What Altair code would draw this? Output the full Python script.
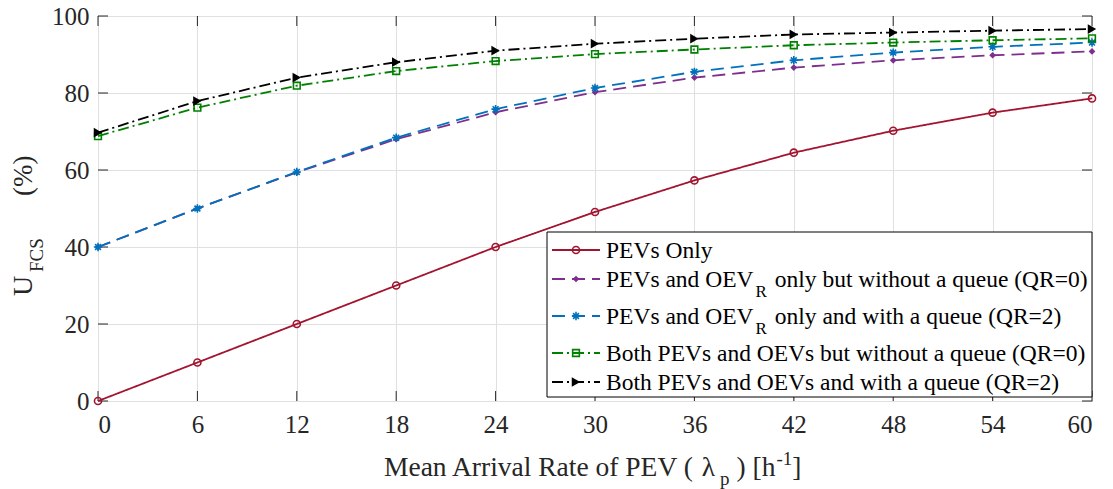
import altair as alt
import pandas as pd

# Mean arrival rate of PEVs (per hour)
arrival_rate = [0, 6, 12, 18, 24, 30, 36, 42, 48, 54, 60]

# Utilisation of the fast charging station (%)
pev_only = [0, 10, 20, 30, 40, 49.1, 57.3, 64.5, 70.2, 74.9, 78.6]
oevr_no_queue = [40, 50, 59.4, 68.0, 75.0, 80.2, 84.0, 86.6, 88.5, 89.8, 90.8]
oevr_queue = [40, 50, 59.5, 68.4, 75.8, 81.3, 85.5, 88.5, 90.5, 92.0, 93.1]
both_no_queue = [68.8, 76.2, 81.9, 85.7, 88.3, 90.1, 91.3, 92.4, 93.1, 93.7, 94.2]
both_queue = [69.7, 77.9, 84.0, 88.0, 91.0, 92.8, 94.1, 95.2, 95.7, 96.2, 96.6]

series_values = [pev_only, oevr_no_queue, oevr_queue, both_no_queue, both_queue]
series_keys = ["pev_only", "oevr_noq", "oevr_q", "both_noq", "both_q"]

# Legend text: (before subscript, subscript, after subscript)
legend_labels = [
    ("PEVs Only", "", ""),
    ("PEVs and OEV", "R", "only but without a queue (QR=0)"),
    ("PEVs and OEV", "R", "only and with a queue (QR=2)"),
    ("Both PEVs and OEVs but without a queue (QR=0)", "", ""),
    ("Both PEVs and OEVs and with a queue (QR=2)", "", ""),
]

x_ticks = [0, 6, 12, 18, 24, 30, 36, 42, 48, 54, 60]
y_ticks = [0, 20, 40, 60, 80, 100]

# Styles
colors = ["#A2142F", "#7E2F8E", "#0072BD", "#008000", "#000000"]
dashes = [[1, 0], [13, 7], [13, 7], [11, 4, 2, 4], [11, 4, 2, 4]]
ASTERISK = "M-1,0L1,0M0,-1L0,1M-0.7,-0.7L0.7,0.7M-0.7,0.7L0.7,-0.7"
shapes = ["circle", "diamond", ASTERISK, "square", "triangle-right"]
filled = [False, True, False, False, True]
sizes = [50, 45, 70, 45, 95]

W, H = 994, 385
FONT = "Liberation Serif"
INK = "#262626"

# Times-compatible advance widths (per 1000 em) for placing text runs
ADV = {
    " ": 250, "P": 556, "E": 611, "V": 722, "s": 389, "a": 444, "n": 500,
    "d": 500, "O": 722, "R": 667, "o": 500, "l": 278, "y": 500, "b": 500,
    "u": 500, "t": 278, "w": 722, "i": 278, "h": 500, "q": 500, "e": 444,
    "(": 333, ")": 333, "Q": 722, "=": 564, "0": 500, "2": 500, "B": 667,
    "M": 889, "A": 722, "r": 333, "v": 500, "f": 333, "[": 333, "]": 333,
    "p": 500, "U": 722, "F": 556, "C": 667, "S": 556, "%": 833, "-": 333,
    "1": 500, "λ": 560,
}


def text_width(s, size):
    return sum(ADV.get(c, 500) for c in s) * size / 1000.0


rows = []
for key, vals in zip(series_keys, series_values):
    for xv, yv in zip(arrival_rate, vals):
        rows.append({"rate": xv, "util": yv, "series": key})
df = pd.DataFrame(rows)

x_scale = alt.Scale(domain=[0, 60], nice=False, zero=False)
y_scale = alt.Scale(domain=[0, 100], nice=False, zero=False)

x_axis = alt.Axis(values=x_ticks, title=None, grid=True, ticks=False, domain=False,
                  labelFont=FONT, labelFontSize=25, labelColor=INK, labelPadding=11,
                  gridColor="#e0e0e0", gridWidth=1)
y_axis = alt.Axis(values=y_ticks, title=None, grid=True, ticks=False, domain=False,
                  labelFont=FONT, labelFontSize=25, labelColor=INK, labelPadding=9,
                  gridColor="#e0e0e0", gridWidth=1)


def xy():
    return dict(
        x=alt.X("rate:Q", scale=x_scale, axis=x_axis),
        y=alt.Y("util:Q", scale=y_scale, axis=y_axis),
    )


layers = []

# Inward tick marks on all four sides
xt = pd.DataFrame({"rate": x_ticks})
yt = pd.DataFrame({"util": y_ticks})
tick_style = dict(color=INK, strokeWidth=1)
layers.append(alt.Chart(xt).mark_rule(**tick_style).encode(
    x=alt.X("rate:Q", scale=x_scale, axis=x_axis), y=alt.value(H), y2=alt.value(H - 10)))
layers.append(alt.Chart(xt).mark_rule(**tick_style).encode(
    x=alt.X("rate:Q", scale=x_scale, axis=x_axis), y=alt.value(0), y2=alt.value(10)))
layers.append(alt.Chart(yt).mark_rule(**tick_style).encode(
    y=alt.Y("util:Q", scale=y_scale, axis=y_axis), x=alt.value(0), x2=alt.value(10)))
layers.append(alt.Chart(yt).mark_rule(**tick_style).encode(
    y=alt.Y("util:Q", scale=y_scale, axis=y_axis), x=alt.value(W), x2=alt.value(W - 10)))

# Data series
for i, key in enumerate(series_keys):
    sub = df[df["series"] == key]
    layers.append(alt.Chart(sub).mark_line(
        color=colors[i], strokeDash=dashes[i], strokeWidth=1.8).encode(**xy()))
    layers.append(alt.Chart(sub).mark_point(
        shape=shapes[i], size=sizes[i], filled=filled[i], color=colors[i],
        strokeWidth=1.6, opacity=1).encode(**xy()))

# Legend box
one = pd.DataFrame({"k": [0]})
LX0, LX1, LY0, LY1 = 449, 994, 216, 381
layers.append(alt.Chart(one).mark_rect(fill="white", stroke="black", strokeWidth=1).encode(
    x=alt.value(LX0), x2=alt.value(LX1), y=alt.value(LY0), y2=alt.value(LY1)))

row_mid = [234, 263, 300, 337, 366]
LEG_FS = 23.5
SUB_FS = 17
text_x = 508
for i, (pre, subs, post) in enumerate(legend_labels):
    ym = row_mid[i]
    layers.append(alt.Chart(one).mark_rule(
        color=colors[i], strokeDash=dashes[i], strokeWidth=1.8).encode(
        x=alt.value(454), x2=alt.value(502), y=alt.value(ym)))
    layers.append(alt.Chart(one).mark_point(
        shape=shapes[i], size=sizes[i], filled=filled[i], color=colors[i],
        strokeWidth=1.6, opacity=1).encode(x=alt.value(478), y=alt.value(ym)))
    base_y = ym + 8
    layers.append(alt.Chart(one).mark_text(
        font=FONT, fontSize=LEG_FS, align="left", baseline="alphabetic", color="black").encode(
        x=alt.value(text_x), y=alt.value(base_y), text=alt.value(pre)))
    if subs:
        sx = text_x + text_width(pre, LEG_FS) + 2
        layers.append(alt.Chart(one).mark_text(
            font=FONT, fontSize=SUB_FS, align="left", baseline="alphabetic", color="black").encode(
            x=alt.value(sx), y=alt.value(base_y + 10), text=alt.value(subs)))
        px = sx + text_width(subs, SUB_FS) + text_width(" ", LEG_FS) + 2
        layers.append(alt.Chart(one).mark_text(
            font=FONT, fontSize=LEG_FS, align="left", baseline="alphabetic", color="black").encode(
            x=alt.value(px), y=alt.value(base_y), text=alt.value(post)))

# X-axis title with subscript and superscript: (text, size, baseline shift, gap after)
TFS = 27.5
SFS = 19
SP = text_width(" ", TFS)
x_title_runs = [
    ("Mean Arrival Rate of PEV (", TFS, 0, SP),
    ("λ", TFS, 0, 3),
    ("p", SFS, 9, SP),
    (")", TFS, 0, SP),
    ("[h", TFS, 0, 1),
    ("-1", SFS, -11, 0),
    ("]", TFS, 0, 0),
]
cx = 286
xb = 460
for txt, fs, dy, gap in x_title_runs:
    layers.append(alt.Chart(one).mark_text(
        font=FONT, fontSize=fs, align="left", baseline="alphabetic", color=INK).encode(
        x=alt.value(cx), y=alt.value(xb + dy), text=alt.value(txt)))
    cx += text_width(txt, fs) + gap

# Y-axis title (rotated) with subscript: (text, size, baseline x, start y)
y_title_runs = [
    ("U", 28, -66, 280),
    ("FCS", SFS, -55, 256),
    ("(%)", 27, -66, 180),
]
for txt, fs, bx, sy in y_title_runs:
    layers.append(alt.Chart(one).mark_text(
        font=FONT, fontSize=fs, align="left", baseline="alphabetic", angle=270, color=INK).encode(
        x=alt.value(bx), y=alt.value(sy), text=alt.value(txt)))

chart = alt.layer(*layers).properties(
    width=W, height=H,
    autosize=alt.AutoSizeParams(type="none"),
    padding={"left": 98, "top": 16, "right": 21, "bottom": 88},
    background="white",
).configure_view(stroke=INK, strokeWidth=1)

chart.save("out.html", embed_options={"renderer": "svg", "actions": False})
